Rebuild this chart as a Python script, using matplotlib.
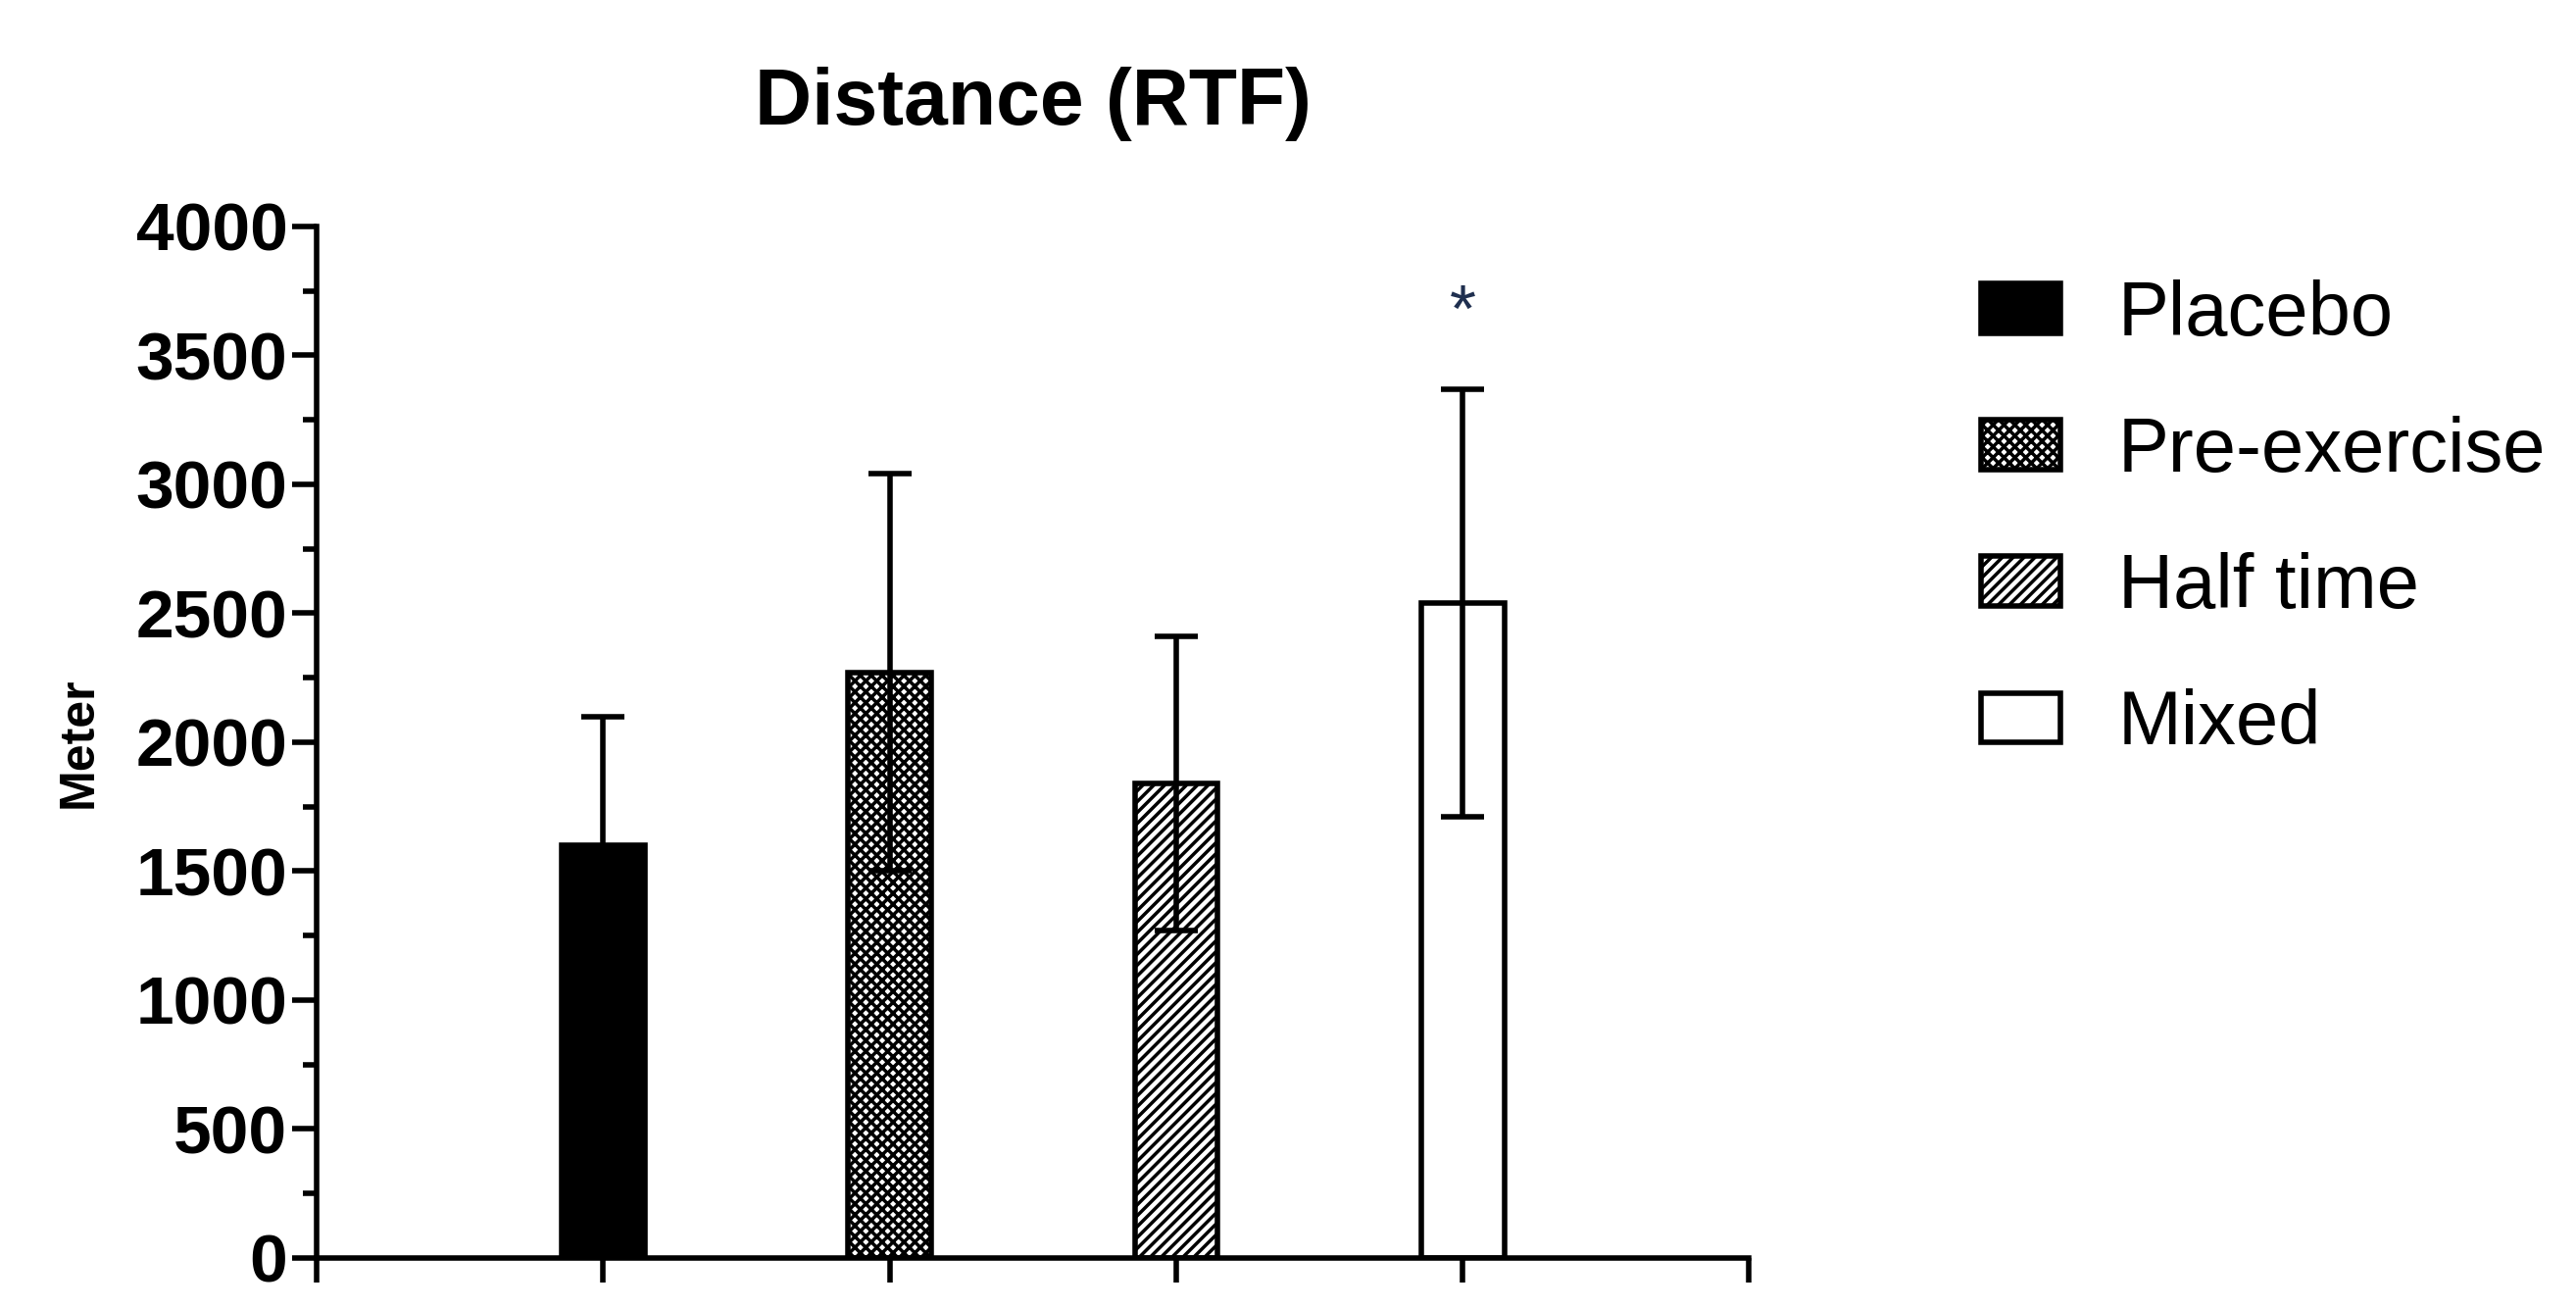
import matplotlib
matplotlib.use("Agg")
import matplotlib.pyplot as plt
from matplotlib.patches import Patch

categories = ["Placebo", "Pre-exercise", "Half time", "Mixed"]
means = [1600, 2270, 1840, 2540]
sds = [500, 770, 570, 830]
hatches = ["", "xxx", "///", ""]
faces = ["black", "white", "white", "white"]

plt.rcParams['font.family'] = ['Liberation Sans', 'DejaVu Sans']
plt.rcParams['hatch.linewidth'] = 2.5

fig = plt.figure(figsize=(26.28, 13.35), dpi=100)
ax = fig.add_axes([0.123, 0.039, 0.556, 0.788])
x = list(range(len(categories)))
for i in x:
    ax.bar(i, means[i], width=0.29, color=faces[i], edgecolor="black",
           linewidth=4, hatch=hatches[i], zorder=2)
    ax.errorbar(i, means[i], yerr=sds[i], fmt="none", ecolor="black",
                elinewidth=4, capsize=16, capthick=4, zorder=3)
ax.text(3, 3540, "*", ha="center", va="bottom", fontsize=50, color="#1f2f4f")

ax.set_xlim(-1, 4)
ax.set_ylim(0, 4000)
ax.set_xticks([-1] + x + [4])
ax.set_xticklabels([])
ax.set_yticks(range(0, 4001, 500))
ax.set_yticks(range(0, 4001, 250), minor=True)
ax.tick_params(axis="both", which="major", width=4, length=18, labelsize=50)
ax.tick_params(axis="y", which="minor", width=4, length=10)
for lab in ax.get_yticklabels():
    lab.set_fontweight("bold")
for s in ["top", "right"]:
    ax.spines[s].set_visible(False)
for s in ["left", "bottom"]:
    ax.spines[s].set_linewidth(4)
ax.set_ylabel("Meter", fontsize=36, fontweight="bold", labelpad=25)
ax.set_title("Distance (RTF)", fontsize=58, fontweight="bold", pad=75)

handles = [Patch(facecolor=faces[i], edgecolor="black", hatch=hatches[i], linewidth=4)
           for i in x]
fig.legend(handles, categories, loc="upper left", bbox_to_anchor=(0.757, 0.81),
           frameon=False, fontsize=56, handlelength=1.05, handleheight=0.62,
           labelspacing=0.85, handletextpad=0.75, borderaxespad=0)
fig.savefig("out.png", dpi=100)
